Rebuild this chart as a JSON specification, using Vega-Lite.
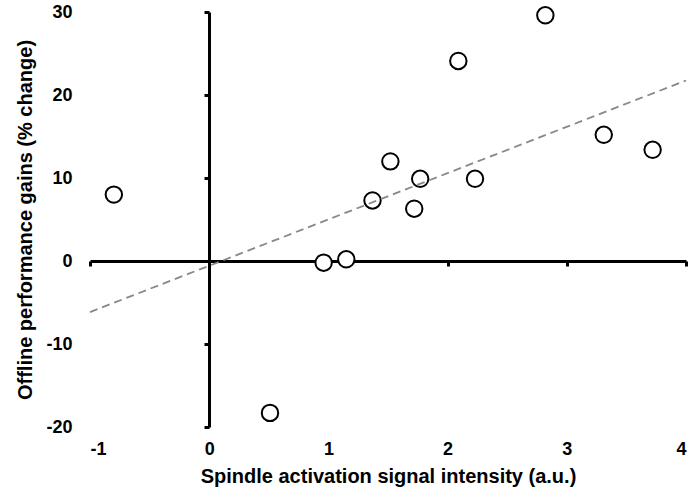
{
  "$schema": "https://vega.github.io/schema/vega-lite/v6.json",
  "width": 596,
  "height": 415,
  "autosize": {"type": "none"},
  "padding": {"left": 90, "top": 12, "right": 10, "bottom": 69},
  "background": "white",
  "config": {
    "view": {"stroke": null},
    "font": "Liberation Sans"
  },
  "data": {
    "values": [
      {"x": -0.8, "y": 8.0},
      {"x": 0.51, "y": -18.3},
      {"x": 0.96, "y": -0.2},
      {"x": 1.15, "y": 0.2},
      {"x": 1.37, "y": 7.3},
      {"x": 1.52, "y": 12.0},
      {"x": 1.72, "y": 6.3},
      {"x": 1.77, "y": 9.9},
      {"x": 2.09, "y": 24.1},
      {"x": 2.23, "y": 9.9},
      {"x": 2.82, "y": 29.6},
      {"x": 3.31, "y": 15.2},
      {"x": 3.72, "y": 13.4}
    ]
  },
  "encoding": {
    "x": {
      "field": "x", "type": "quantitative",
      "scale": {"domain": [-1, 4], "nice": false, "zero": false},
      "axis": {
        "title": "Spindle activation signal intensity (a.u.)",
        "orient": "bottom",
        "offset": -166,
        "values": [-1, 0, 1, 2, 3, 4],
        "labelExpr": "'' + datum.value",
        "grid": false,
        "domainColor": "black", "domainWidth": 3,
        "tickColor": "black", "tickWidth": 3, "tickSize": 5,
        "labelFont": "Liberation Sans", "labelFontSize": 18, "labelFontWeight": "bold", "labelColor": "black",
        "labelPadding": 174,
        "titleFont": "Liberation Sans", "titleFontSize": 20, "titleFontWeight": "bold", "titleColor": "black",
        "titlePadding": 8
      }
    },
    "y": {
      "field": "y", "type": "quantitative",
      "scale": {"domain": [-20, 30], "nice": false, "zero": false},
      "axis": {
        "title": "Offline performance gains (% change)",
        "orient": "left",
        "offset": -119,
        "values": [-20, -10, 0, 10, 20, 30],
        "labelExpr": "'' + datum.value",
        "grid": false,
        "domainColor": "black", "domainWidth": 3,
        "tickColor": "black", "tickWidth": 3, "tickSize": 5,
        "labelFont": "Liberation Sans", "labelFontSize": 18, "labelFontWeight": "bold", "labelColor": "black",
        "labelPadding": 132,
        "titleFont": "Liberation Sans", "titleFontSize": 20, "titleFontWeight": "bold", "titleColor": "black",
        "titlePadding": 10
      }
    }
  },
  "layer": [
    {
      "mark": {"type": "point", "shape": "circle", "filled": false, "fill": "white", "fillOpacity": 1, "stroke": "black", "strokeWidth": 2, "size": 270, "opacity": 1}
    },
    {
      "transform": [{"regression": "y", "on": "x", "extent": [-1, 4]}],
      "mark": {"type": "line", "color": "#888888", "strokeWidth": 1.8, "strokeDash": [8, 5]}
    }
  ]
}
